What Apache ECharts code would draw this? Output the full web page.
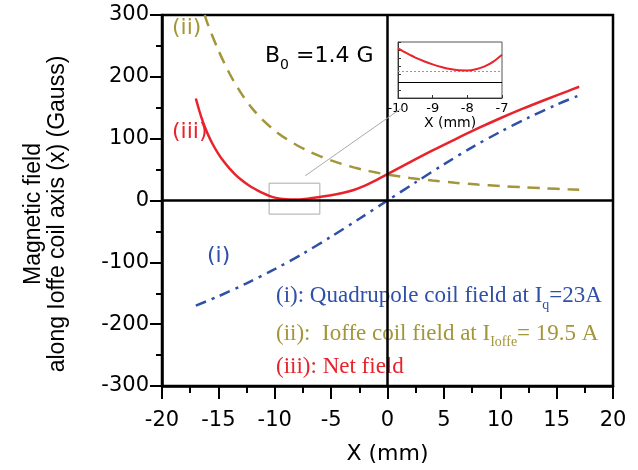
<!DOCTYPE html>
<html>
<head>
<meta charset="utf-8">
<script src="https://cdn.jsdelivr.net/npm/echarts@6/dist/echarts.min.js"></script>
<style>
  html, body { margin: 0; padding: 0; background: #fff; }
  #main { width: 638px; height: 470px; }
</style>
</head>
<body>
<div id="main"></div>
<script>
// (i) quadrupole coil field
var quadX = [-17, -15, -12.5, -10, -7.5, -5, -2.5, 0, 2.5, 5, 7.5, 10, 12.5, 15, 17];
var quadY = [-170, -155, -134, -111, -86, -58.5, -29.5, 0, 29.5, 58.5, 86, 111, 134, 155, 170];
// (ii) ioffe coil field
var ioffeX = [-16.2, -16, -15, -14, -13, -12, -11, -10, -9, -8, -7, -6, -5, -4, -3, -2, -1, 0, 2, 4, 6, 8, 10, 12, 14, 16, 17];
var ioffeY = [300, 288, 243, 205, 174, 149, 129, 113, 100, 89, 79.7, 71.7, 64.8, 58.8, 53.6, 49.1, 45.2, 41.8, 36.5, 32.2, 28.7, 25.8, 23.4, 21.4, 19.7, 18.2, 17.5];
// (iii) net field
var netX = [-17, -16.5, -16, -15.5, -15, -14.5, -14, -13.5, -13, -12.5, -12, -11.5, -11, -10.5, -10, -9.5, -9, -8.5, -8, -7.5, -7, -6, -5, -4, -3, -2, -1, 0, 2, 4, 6, 8, 10, 12, 14, 16, 17];
var netY = [165, 134, 110, 91, 75.5, 62.5, 51.5, 42, 34, 27, 21, 16, 11.5, 7.6, 4.6, 2.9, 2.0, 1.5, 1.5, 2.0, 3.2, 5.8, 8.5, 12, 17, 24, 33, 42.5, 62, 81, 99, 116.5, 133, 148.5, 163, 177, 184];
// inset (zoom of the minimum)
var insetX = [-10, -9.75, -9.5, -9.25, -9, -8.75, -8.5, -8.25, -8, -7.75, -7.5, -7.25, -7];
var insetY = [4.2, 3.6, 3.05, 2.6, 2.2, 1.87, 1.62, 1.47, 1.45, 1.6, 1.95, 2.55, 3.4];
var B0 = 1.4;

function pairs(xs, ys) {
    return xs.map(function (x, i) { return [x, ys[i]]; });
}

var blue = '#2f50a8';
var olive = '#a3963a';
var red = '#e8232b';
var sans = 'DejaVu Sans';
var serif = 'Liberation Serif';

var chart = echarts.init(document.getElementById('main'));

var option = {
    animation: false,
    grid: [
        { left: 162, right: 25, top: 15, bottom: 82, show: true, borderColor: '#000', borderWidth: 2.5 },
        { left: 398, top: 42, width: 104, height: 56, show: true, borderColor: '#555', borderWidth: 1, backgroundColor: '#fff' }
    ],
    xAxis: [{
        type: 'value', gridIndex: 0, min: -20, max: 20, interval: 5,
        axisLine: { onZero: false, lineStyle: { color: '#000', width: 2.5 } },
        axisTick: { length: 13, lineStyle: { color: '#000', width: 2 } },
        minorTick: { show: true, splitNumber: 2, length: 7, lineStyle: { color: '#000', width: 2 } },
        splitLine: { show: false },
        axisLabel: { color: '#000', fontSize: 21, fontFamily: sans, margin: 24 },
        name: 'X (mm)', nameLocation: 'middle', nameGap: 57,
        nameTextStyle: { color: '#000', fontSize: 22, fontFamily: sans }
    }, {
        type: 'value', gridIndex: 1, min: -10, max: -7, interval: 1,
        axisLine: { onZero: false, lineStyle: { color: '#333', width: 1 } },
        axisTick: { inside: true, length: 3, lineStyle: { color: '#333' } },
        splitLine: { show: false },
        axisLabel: { color: '#000', fontSize: 13, fontFamily: sans, margin: 4 },
        name: 'X (mm)', nameLocation: 'middle', nameGap: 16,
        nameTextStyle: { color: '#000', fontSize: 14, fontFamily: sans }
    }],
    yAxis: [{
        type: 'value', gridIndex: 0, min: -300, max: 300, interval: 100,
        axisLine: { onZero: false, lineStyle: { color: '#000', width: 2.5 } },
        axisTick: { length: 12, lineStyle: { color: '#000', width: 2 } },
        minorTick: { show: true, splitNumber: 2, length: 6, lineStyle: { color: '#000', width: 2 } },
        splitLine: { show: false },
        axisLabel: { color: '#000', fontSize: 21, fontFamily: sans, margin: 13 }
    }, {
        type: 'value', gridIndex: 1, min: -2, max: 5, interval: 1,
        axisLine: { onZero: false, lineStyle: { color: '#333', width: 1 } },
        axisTick: { inside: true, length: 3, lineStyle: { color: '#333' } },
        splitLine: { show: false },
        axisLabel: { show: false }
    }],
    series: [{
        name: 'quad', type: 'line', xAxisIndex: 0, yAxisIndex: 0,
        data: pairs(quadX, quadY), smooth: 0.3, showSymbol: false,
        lineStyle: { color: blue, width: 2.5, type: [11, 6, 3, 6] },
        markLine: {
            silent: true, symbol: 'none', label: { show: false },
            lineStyle: { color: '#000', width: 2.5, type: 'solid' },
            data: [{ xAxis: 0 }, { yAxis: 0 }]
        }
    }, {
        name: 'ioffe', type: 'line', xAxisIndex: 0, yAxisIndex: 0,
        data: pairs(ioffeX, ioffeY), smooth: 0.3, showSymbol: false,
        lineStyle: { color: olive, width: 2.5, type: [12, 8] }
    }, {
        name: 'net', type: 'line', xAxisIndex: 0, yAxisIndex: 0,
        data: pairs(netX, netY), smooth: 0.3, showSymbol: false,
        lineStyle: { color: red, width: 2.5 },
        markArea: {
            silent: true,
            itemStyle: { color: 'rgba(0,0,0,0)', borderColor: '#aaa', borderWidth: 1 },
            data: [[{ coord: [-10.5, -22] }, { coord: [-6, 28] }]]
        },
        markLine: {
            silent: true, symbol: 'none', label: { show: false },
            lineStyle: { color: '#aaa', width: 1, type: 'solid' },
            data: [[{ coord: [-7.3, 40] }, { coord: [1.3, 150] }]]
        }
    }, {
        name: 'insetZero', type: 'line', xAxisIndex: 1, yAxisIndex: 1, z: 5,
        data: [], showSymbol: false,
        markLine: {
            silent: true, symbol: 'none', label: { show: false },
            lineStyle: { color: '#000', width: 1, type: 'solid' },
            data: [{ yAxis: 0 }]
        }
    }, {
        name: 'insetB0', type: 'line', xAxisIndex: 1, yAxisIndex: 1, z: 5,
        data: [], showSymbol: false,
        markLine: {
            silent: true, symbol: 'none', label: { show: false },
            lineStyle: { color: '#999', width: 1, type: [2, 2] },
            data: [{ yAxis: B0 }]
        }
    }, {
        name: 'inset', type: 'line', xAxisIndex: 1, yAxisIndex: 1, z: 6,
        data: pairs(insetX, insetY), smooth: 0.3, showSymbol: false,
        lineStyle: { color: red, width: 2 }
    }],
    graphic: [{
        type: 'text', x: 46, y: 214, rotation: Math.PI / 2,
        style: {
            text: 'Magnetic field\nalong Ioffe coil axis (x) (Gauss)',
            fontSize: 23, fontFamily: 'Liberation Sans', fill: '#000', lineHeight: 24,
            align: 'center', verticalAlign: 'middle', textAlign: 'center', textVerticalAlign: 'middle'
        }
    }, {
        type: 'text', x: 172, y: 28,
        style: { text: '(ii)', fontSize: 22, fontFamily: sans, fill: olive, verticalAlign: 'middle', textVerticalAlign: 'middle' }
    }, {
        type: 'text', x: 172, y: 132,
        style: { text: '(iii)', fontSize: 22, fontFamily: sans, fill: red, verticalAlign: 'middle', textVerticalAlign: 'middle' }
    }, {
        type: 'text', x: 207, y: 256,
        style: { text: '(i)', fontSize: 22, fontFamily: sans, fill: blue, verticalAlign: 'middle', textVerticalAlign: 'middle' }
    }, {
        type: 'text', x: 265, y: 56,
        style: {
            text: 'B{sub|0} =1.4 G', fontSize: 22, fontFamily: sans, fill: '#000',
            verticalAlign: 'middle', textVerticalAlign: 'middle',
            rich: { sub: { fontSize: 14, fontFamily: sans, fill: '#000', padding: [18, 0, 0, 0] } }
        }
    }, {
        type: 'text', x: 276, y: 296,
        style: {
            text: '(i): Quadrupole coil field at I{sub|q}=23A', fontSize: 23, fontFamily: serif, fill: blue,
            verticalAlign: 'middle', textVerticalAlign: 'middle',
            rich: { sub: { fontSize: 14, fontFamily: serif, fill: blue, padding: [18, 0, 0, 0] } }
        }
    }, {
        type: 'text', x: 276, y: 334,
        style: {
            text: '(ii):  Ioffe coil field at I{sub|Ioffe}= 19.5 A', fontSize: 23, fontFamily: serif, fill: olive,
            verticalAlign: 'middle', textVerticalAlign: 'middle',
            rich: { sub: { fontSize: 14, fontFamily: serif, fill: olive, padding: [16, 0, 0, 0] } }
        }
    }, {
        type: 'text', x: 276, y: 367,
        style: { text: '(iii): Net field', fontSize: 23, fontFamily: serif, fill: red, verticalAlign: 'middle', textVerticalAlign: 'middle' }
    }]
};

chart.setOption(option);
</script>
</body>
</html>
